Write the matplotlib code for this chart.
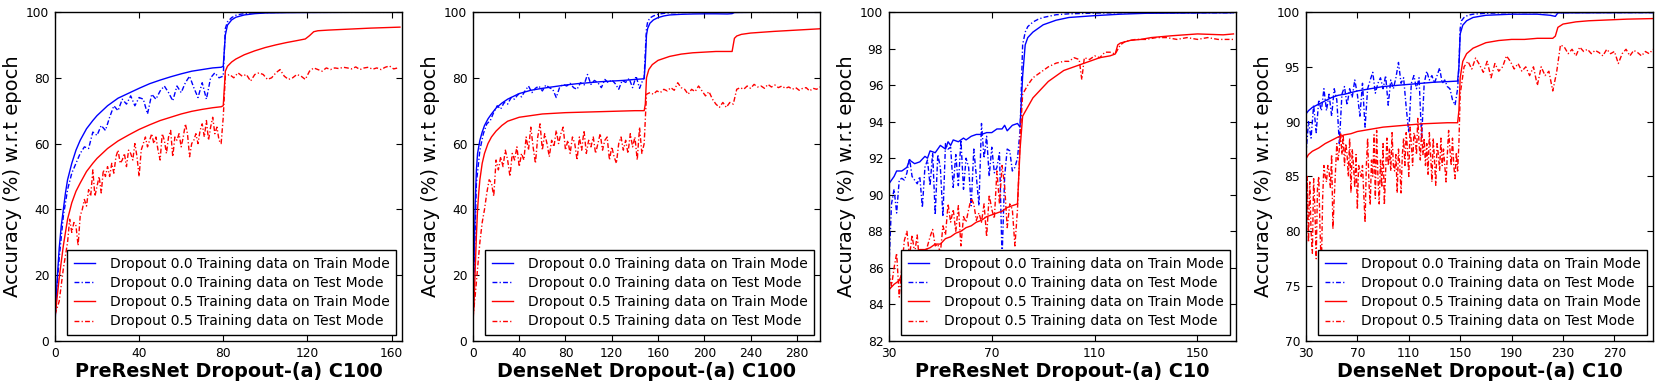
import numpy as np
import matplotlib
matplotlib.use("Agg")
import matplotlib.pyplot as plt

# ---------------- data ----------------
labels = ["Dropout 0.0 Training data on Train Mode",
          "Dropout 0.0 Training data on Test Mode",
          "Dropout 0.5 Training data on Train Mode",
          "Dropout 0.5 Training data on Test Mode"]
titles = ["PreResNet Dropout-(a) C100", "DenseNet Dropout-(a) C100",
          "PreResNet Dropout-(a) C10", "DenseNet Dropout-(a) C10"]

# ---- Panel 1: PreResNet C100 ----
p1_bt_x = [0,1,2,3,4,5,6,8,10,12,15,18,20,25,30,35,40,45,50,55,60,65,70,75,79,80,81,82,84,86,90,95,100,110,120,140,164]
p1_bt_y = [5,18,28,35,40,45,49,54,58,61,64.5,67,68.5,71.5,73.8,75.3,76.8,78.2,79.3,80.3,81.2,82,82.5,83,83.2,83.5,93,96,97.6,98.4,99.1,99.5,99.7,99.8,99.85,99.9,99.9]

p1_be_x = list(range(0, 81, 2)) + [81,82,84,86,88,90,95,100,110,120,164]
p1_be_y = [8,25,38,46,51,54,57,59,58.5,63.5,62.5,65.5,64,68,71.5,70,73.5,72,74.5,71.5,74,73.5,69,75,73.5,76,77.5,75.5,73,77.5,75.5,78.5,80.5,77,74,78.5,73.5,80,81.5,80,80.5,
           95,97,98.3,99,99.3,99.5,99.8,99.85,99.9,99.9,99.9]

p1_rt_x = [0,1,2,3,4,5,6,8,10,12,15,18,20,25,30,35,40,45,50,55,60,65,70,75,79,80,81,82,84,86,90,95,100,105,110,115,119,121,123,125,130,140,150,164]
p1_rt_y = [7,13,19,24,29,33,37,42,45.5,48,51.5,54,55.5,58.5,60.8,62.6,64.3,65.7,67,68,69,69.8,70.4,70.9,71.2,71.5,82,83.5,84.8,85.7,87,88.2,89.2,90,90.7,91.3,91.8,92.8,94,94.3,94.5,94.8,95.1,95.4]

p1_re_x = list(range(0, 81)) + list(range(81, 164, 2))
p1_re_y = [8,10,12,17,22,26,30,37,33,36,35,29,38,40,43,41,46,44,52,44,47,50,45,52,50,53,50,54,51,56,
           58,54,55,57,53,58,57,55,60,56,50,58,60,62,59,61,63,60,62,58,55,63,61,57,62,64,56,62,61,63,
           59,62,66,63,56,60,61,63,60,64,66,62,67,61,65,68,63,65,61,60,68,
           80.5,81,80,81.5,80.5,81,79,81,81.5,81,79.5,80,81.5,82.5,80.5,79.5,80,81,80.5,79.5,
           82,83,82.5,82,83,82.5,83,82.8,83.2,83,82.7,83.3,82.5,83,83.2,82.6,83,82.5,83.2,83.6,82.7,83]

# ---- Panel 2: DenseNet C100 ----
p2_bt_x = [0,1,2,3,4,6,8,10,13,16,20,25,30,40,50,60,70,80,90,100,110,120,130,140,148,149,150,151,153,156,160,165,170,180,190,200,210,220,224,226,240,300]
p2_bt_y = [5,25,42,52,57,61,63.5,65.5,67.5,69,70.8,72.3,73.5,75.2,76.2,76.8,77.3,77.8,78.2,78.5,78.8,79,79.2,79.5,79.7,85,93,95,96.6,97.6,98.3,98.8,99.1,99.3,99.4,99.45,99.45,99.4,99.5,99.85,99.9,99.9]

p2_be_x = list(range(0, 148, 3)) + [148,149,150,151,153,156,160,165,170,180,200,300]
p2_be_y = [8,48,58,63,66,67,69.5,71.5,70.5,72.5,72,74,73.5,75,74.2,76,77.5,75.5,76.8,77.5,
           76,77.8,77,76.5,74,77.2,78,77.5,78.3,77,76.5,78.5,77.8,81,78,79.2,78.5,77,79.5,78.5,
           79.4,78.2,76.5,79.2,78.6,79.8,77,80.5,76.8,79.5,
           80,88,95,97,98.2,98.8,99.3,99.6,99.75,99.85,99.9,99.9]

p2_rt_x = [0,1,2,3,4,5,6,8,10,13,16,20,25,30,40,50,60,70,80,100,120,140,148,149,150,152,155,160,170,180,190,200,210,224,225,226,228,232,240,260,280,300]
p2_rt_y = [5,12,22,32,40,45,49,54,57,60,62,63.8,65.5,66.8,68,68.5,69,69.2,69.4,69.6,69.8,70,70,72,80,82.5,84,85.3,86.5,87.2,87.6,87.8,88,88,90,92,92.7,93.2,93.6,94.1,94.5,94.9]

p2_re_x = list(range(0, 149, 2)) + list(range(150, 301, 3))
p2_re_y = [7,14,22,30,36,40,45,49,48,44,55,52,56,53,58,55,50,57,55,59,53,57,55,62,58,65,59,54,62,66,
           58,63,60,56,61,59,64,60,63,65,58,61,57,62,60,55,62,58,64,57,61,59,62,57,60,63,58,61,62,55,
           59,56,54,60,62,58,61,57,63,59,62,55,65,57,60,
           75,75.5,75,76,75.5,76.5,76,77,76.2,78.5,77,76.5,75,76.5,75.8,77.5,76,74.5,75.8,73.5,
           72,71,72.5,71,72.5,72,76.5,77,76.5,77.5,76.8,78,77.2,77.5,76.8,78,77.2,77.8,77,77.5,
           76.8,77.2,76.5,77,76.2,76.8,77,76,76.8,76.5,77.2]

# ---- Panel 3: PreResNet C10 ----
p3_bt_x = [30,31,32,33,35,37,38,40,42,44,45,46,48,50,52,53,54,55,57,59,60,62,64,66,68,70,72,74,75,76,78,80,81,82,83,84,86,88,90,95,100,110,120,130,164]
p3_bt_y = [90.6,90.8,91,91.3,91.3,91.5,91.9,91.7,91.8,92.1,92,92.4,92.3,92.7,92.5,92.9,92.7,93,92.9,93.1,93,93.2,93.3,93.3,93.4,93.4,93.6,93.6,93.8,93.5,93.8,93.9,93.7,96.5,98.2,98.6,98.9,99.1,99.3,99.55,99.7,99.8,99.88,99.93,99.96]

p3_be_x = list(range(30, 82)) + [82,83,84,86,88,90,95,100,110,120,164]
p3_be_y = [86,89.5,90.3,89,90.8,90.9,90.8,91.2,92,91,90.8,90.6,91,89.3,91.5,91.9,90.5,92.3,88.9,92.2,
           91.5,88.8,92.8,92.5,92.6,90.4,92.2,90.5,93,90.3,92,91.5,89.4,92.5,91,89.4,93.9,92,93.2,91,
           92.6,91.2,91.5,92.3,86.5,91,92.5,92.4,91.3,91.5,92,93.5,
           98.2,98.9,99.2,99.45,99.6,99.7,99.85,99.9,99.94,99.96,99.96]

p3_rt_x = [30,32,34,36,38,40,42,44,46,48,50,52,54,56,58,60,62,64,66,68,70,72,74,76,78,80,81,82,84,86,88,90,92,95,98,100,104,108,112,116,118,119,120,124,128,132,136,140,150,160,164]
p3_rt_y = [84.8,85.1,85.3,86,86.5,86.8,87,87,87.1,87.3,87.3,87.6,87.7,87.9,88,88.2,88.3,88.5,88.6,88.8,88.9,89,89.1,89.3,89.4,89.5,92.5,94.3,94.8,95.3,95.6,95.9,96.2,96.5,96.8,96.9,97.1,97.3,97.5,97.6,97.7,98.2,98.3,98.45,98.5,98.6,98.65,98.7,98.8,98.75,98.8]

p3_re_x = list(range(30, 82)) + [82,84,86,88,90,92,95,98,100,102,104,105,106,108,110,112,114,116,118,120,122,126,130,134,138,142,146,150,154,158,162,164]
p3_re_y = [85.8,85,86,86.8,84.4,86,87.5,88,86.6,87.8,86.8,87.8,86,85.8,86.5,87.2,87.7,88.1,87.2,87.3,
           86.8,88.3,87.8,89.5,88.5,89.2,88,89.4,87.2,88.8,88.5,89.2,89.8,89.5,88.6,89,88.5,89.5,87.7,90,
           89.2,88.7,91.3,89.5,91.6,90.5,88.2,89.5,89.2,87.2,89.2,93,
           95.5,96,96.4,96.6,96.8,97,97.2,97.3,97.3,97.5,97.4,96.3,97.5,97.4,97.6,97.5,97.8,97.8,97.7,98.2,
           98.4,98.5,98.5,98.6,98.6,98.5,98.6,98.5,98.6,98.5,98.5,98.5]

# ---- Panel 4: DenseNet C10 ----
p4_bt_x = [30,32,35,40,45,50,55,60,70,80,90,100,110,120,130,140,148,149,150,152,155,160,170,190,210,220,224,226,300]
p4_bt_y = [90.7,91,91.3,91.6,91.9,92.2,92.4,92.5,92.8,93,93.2,93.3,93.4,93.5,93.6,93.65,93.7,95,98,98.8,99.2,99.5,99.7,99.8,99.8,99.7,99.6,99.92,99.95]

p4_be_x = list(range(30, 149, 2)) + [149,150,151,153,156,160,170,180,190,300]
p4_be_y = [87,90,88.5,91.5,89,92,91,93,91,92.5,90.5,93,92,88,92.5,93.2,91.5,93,92.2,93.8,
           92.5,90.5,93.5,89.5,93,93.8,94.5,92.6,93.5,94,93,94.2,91.5,93.8,93,94,95.4,93.5,94,91.3,
           89,93.5,94.2,93,94,88.5,93.5,94.6,93.8,94.2,93.5,94.2,94.9,93.5,93.8,93.2,93,92,91.5,93,
           95,98.5,99.2,99.5,99.7,99.8,99.88,99.92,99.95,99.95]

p4_rt_x = [30,32,35,40,45,50,55,60,65,70,80,90,100,110,120,130,140,148,149,150,152,155,160,170,180,190,200,210,222,224,226,230,240,250,260,280,300]
p4_rt_y = [86.6,87,87.3,87.6,88,88.3,88.6,88.8,88.9,89.1,89.3,89.5,89.6,89.7,89.8,89.85,89.9,89.9,91,94,95.5,96.2,96.7,97.2,97.4,97.5,97.5,97.6,97.6,97.8,98.6,98.9,99.1,99.2,99.25,99.35,99.4]

p4_re_x = list(range(30, 150)) + list(range(150, 301, 3))
p4_re_y = [76,85,79,84.5,80,78,84.8,82,77.5,84,85,80,76.5,83,86,85,84.5,86,85.5,84,
           87,80.2,83,85.5,88,86.5,87.5,89,87,88.8,86,88,87,85,88.5,83.5,87.5,86,84,87,
           82,86,85.5,85,86,83.5,80.8,86,88.5,84.5,82.4,86.5,85,88.8,83,89.2,85,82.5,86.5,84,
           88,82.4,85.5,88.5,86,87.5,85.5,89,86,85.5,87,83.5,87.5,86,83.5,87,88.5,86,89,87.5,
           85,89.5,88,86,89,88.5,87,90.3,88,86.5,89.5,87,88.5,86,88,85.2,89,87,84.5,88.5,
           86.5,84.2,88,87,85.5,88.5,86,87.5,86,84.5,87,89.2,87.5,86,88.5,86,84.8,87.2,85.5,88,
           92.5,95,95.5,94.8,95.8,95.2,94.5,95.5,94,95.3,94.6,95,96,95.5,94.8,95.3,94.6,95,94.2,95,
           93.3,95,94.2,94.6,92.8,94.5,97,96.8,96.2,96.6,96,96.8,96.4,96.6,96.2,96.5,96.3,96,96.6,96.2,
           96.4,95.3,96.2,96.6,96,96.5,96.3,96,96.4,96.2,96.6]

panels = [
    dict(series=[(p1_bt_x, p1_bt_y), (p1_be_x, p1_be_y), (p1_rt_x, p1_rt_y), (p1_re_x, p1_re_y)],
         xlim=(0, 165), xticks=[0, 40, 80, 120, 160], ylim=(0, 100), yticks=[0, 20, 40, 60, 80, 100]),
    dict(series=[(p2_bt_x, p2_bt_y), (p2_be_x, p2_be_y), (p2_rt_x, p2_rt_y), (p2_re_x, p2_re_y)],
         xlim=(0, 300), xticks=[0, 40, 80, 120, 160, 200, 240, 280], ylim=(0, 100), yticks=[0, 20, 40, 60, 80, 100]),
    dict(series=[(p3_bt_x, p3_bt_y), (p3_be_x, p3_be_y), (p3_rt_x, p3_rt_y), (p3_re_x, p3_re_y)],
         xlim=(30, 165), xticks=[30, 70, 110, 150], ylim=(82, 100), yticks=[82, 84, 86, 88, 90, 92, 94, 96, 98, 100]),
    dict(series=[(p4_bt_x, p4_bt_y), (p4_be_x, p4_be_y), (p4_rt_x, p4_rt_y), (p4_re_x, p4_re_y)],
         xlim=(30, 300), xticks=[30, 70, 110, 150, 190, 230, 270], ylim=(70, 100), yticks=[70, 75, 80, 85, 90, 95, 100]),
]

# ---------------- style ----------------
plt.rcParams['font.family'] = ['DejaVu Sans']
plt.rcParams['xtick.direction'] = 'in'
plt.rcParams['ytick.direction'] = 'in'
plt.rcParams['xtick.top'] = True
plt.rcParams['ytick.right'] = True
plt.rcParams['xtick.major.size'] = 4.5
plt.rcParams['ytick.major.size'] = 4.5
plt.rcParams['xtick.major.pad'] = 4
plt.rcParams['ytick.major.pad'] = 4

colors = ['#0000ff', '#0000ff', '#ff0000', '#ff0000']
dashdot = (0, (3.5, 1.6, 0.9, 1.6))
styles = ['-', dashdot, '-', dashdot]

fig = plt.figure(figsize=(16.6, 3.87), dpi=100)
lefts = [0.0331, 0.2849, 0.5355, 0.7867]
for i, p in enumerate(panels):
    ax = fig.add_axes([lefts[i], 0.119, 0.2091, 0.850])
    for (xs, ys), c, ls, lab in zip(p['series'], colors, styles, labels):
        ax.plot(xs, ys, color=c, linestyle=ls, linewidth=1.0, label=lab)
    ax.set_xlim(*p['xlim'])
    ax.set_ylim(*p['ylim'])
    ax.set_xticks(p['xticks'])
    ax.set_yticks(p['yticks'])
    ax.tick_params(labelsize=8.8)
    for s in ax.spines.values():
        s.set_linewidth(1.0)
    ax.set_ylabel("Accuracy (%) w.r.t epoch", fontsize=14, labelpad=3)
    ax.set_xlabel(titles[i], fontsize=13.8, fontweight='bold', labelpad=2)
    leg = ax.legend(loc='lower right', fontsize=10, frameon=True, fancybox=False,
                    framealpha=1.0, edgecolor='black', handlelength=1.5, handletextpad=1.1,
                    borderaxespad=0.45, labelspacing=0.38, borderpad=0.45)
    leg.get_frame().set_linewidth(1.0)

fig.savefig("out.png", dpi=100, facecolor='white')
